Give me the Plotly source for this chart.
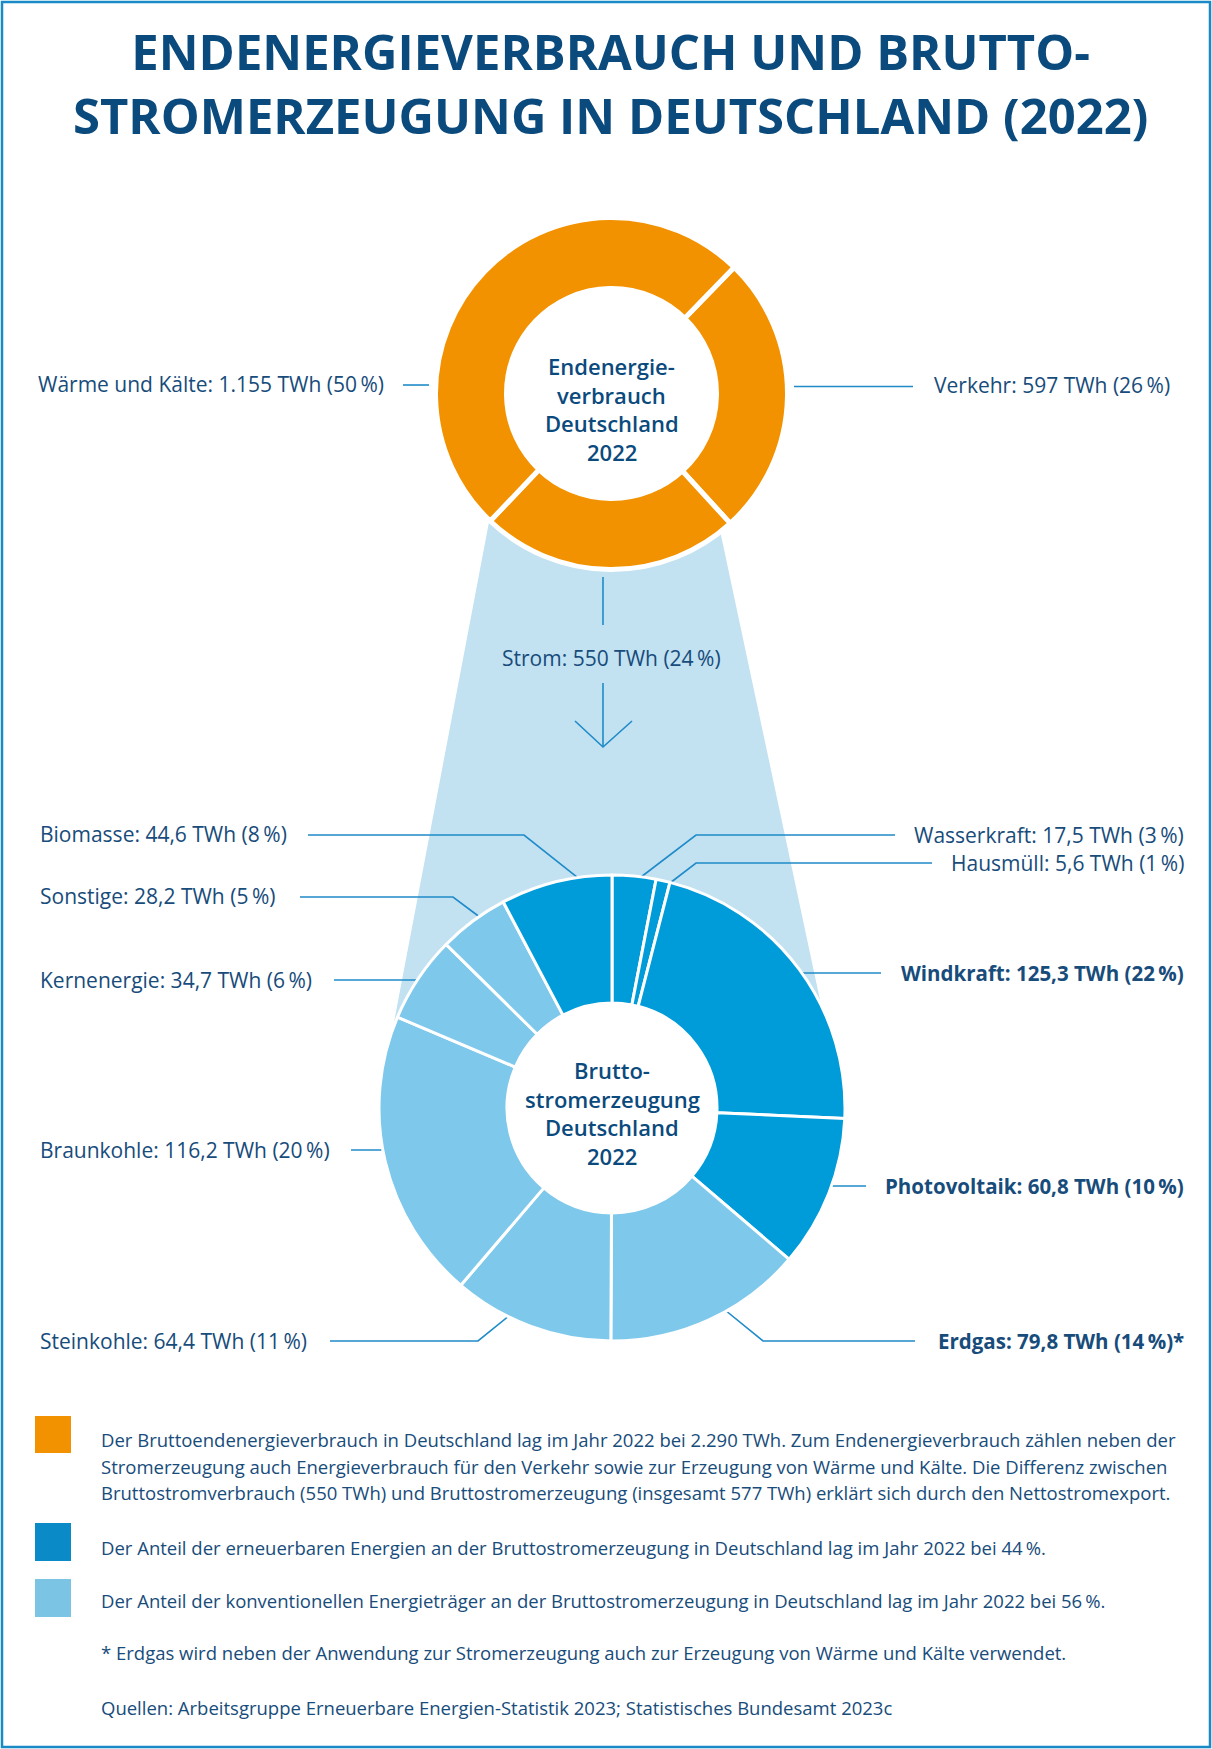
import math
import plotly.graph_objects as go

W, H = 1212, 1749

# ---------------- data ----------------
title_lines = ["ENDENERGIEVERBRAUCH UND BRUTTO-", "STROMERZEUGUNG IN DEUTSCHLAND (2022)"]

upper_labels = ["Verkehr", "Strom", "Wärme und Kälte"]
upper_values = [597, 550, 1155]
upper_pct = [26, 24, 50]
upper_center = ["Endenergie-", "verbrauch", "Deutschland", "2022"]

lower_labels = ["Wasserkraft", "Hausmüll", "Windkraft", "Photovoltaik", "Erdgas",
                "Steinkohle", "Braunkohle", "Kernenergie", "Sonstige", "Biomasse"]
lower_values = [17.5, 5.6, 125.3, 60.8, 79.8, 64.4, 116.2, 34.7, 28.2, 44.6]
lower_pct = [3, 1, 22, 10, 14, 11, 20, 6, 5, 8]
lower_kind = ["erneuerbar", "erneuerbar", "erneuerbar", "erneuerbar", "konventionell",
              "konventionell", "konventionell", "konventionell", "konventionell", "erneuerbar"]
lower_bold = ["Windkraft", "Photovoltaik", "Erdgas"]
lower_suffix = {"Erdgas": "*"}
lower_center = ["Brutto-", "stromerzeugung", "Deutschland", "2022"]

footer_blocks = [
    ("orange", ["Der Bruttoendenergieverbrauch in Deutschland lag im Jahr 2022 bei 2.290 TWh. Zum Endenergieverbrauch zählen neben der",
                "Stromerzeugung auch Energieverbrauch für den Verkehr sowie zur Erzeugung von Wärme und Kälte. Die Differenz zwischen",
                "Bruttostromverbrauch (550 TWh) und Bruttostromerzeugung (insgesamt 577 TWh) erklärt sich durch den Nettostromexport."]),
    ("erneuerbar", ["Der Anteil der erneuerbaren Energien an der Bruttostromerzeugung in Deutschland lag im Jahr 2022 bei 44\u2009%."]),
    ("konventionell", ["Der Anteil der konventionellen Energieträger an der Bruttostromerzeugung in Deutschland lag im Jahr 2022 bei 56\u2009%."]),
    (None, ["* Erdgas wird neben der Anwendung zur Stromerzeugung auch zur Erzeugung von Wärme und Kälte verwendet."]),
    (None, ["Quellen: Arbeitsgruppe Erneuerbare Energien-Statistik 2023; Statistisches Bundesamt 2023c"]),
]

# ---------------- styles ----------------
FONT = "Open Sans"
TITLE_COLOR = "#0b4a7d"
TEXT_COLOR = "#174c7b"
LINE_COLOR = "#1f8bc8"
COLORS = {"orange": "#f39200", "erneuerbar": "#009bd9", "konventionell": "#7ec8eb"}
LEGEND_COLORS = {"orange": "#f39200", "erneuerbar": "#0a8bc7", "konventionell": "#7cc4e4"}
FUNNEL_COLOR = "#c2e1f1"
BORDER_COLOR = "#1a8ac6"

# ---------------- layout geometry (pixels) ----------------
UP_C, UP_R, UP_HOLE_R = (611.5, 393.5), 176, 105
LO_C, LO_R, LO_HOLE_R = (612, 1108), 233, 105
UP_ROT = 44.2

upper_label_pos = {
    "Wärme und Kälte": dict(x=386, y=384, anchor="right", leader=[(403, 385), (429, 385)]),
    "Verkehr": dict(x=932, y=385, anchor="left", leader=[(794, 386.5), (913, 386.5)]),
}
strom_pos = dict(x=611, y=658, line1=[(603, 577), (603, 625)], line2=[(603, 683), (603, 747)],
                 head=[(575, 721), (603, 747), (632, 721)])

lower_label_pos = {
    "Wasserkraft": dict(x=1186, y=835, anchor="right", leader=[(895, 835), (696, 835), (641, 877)]),
    "Hausmüll": dict(x=1186, y=863, anchor="right", leader=[(932, 863), (696, 863), (670, 883)]),
    "Windkraft": dict(x=1186, y=973, anchor="right", leader=[(881, 973), (798, 973)]),
    "Photovoltaik": dict(x=1186, y=1186, anchor="right", leader=[(866, 1186), (826, 1186)]),
    "Erdgas": dict(x=1186, y=1341, anchor="right", leader=[(915, 1341), (763, 1341), (725, 1310)]),
    "Steinkohle": dict(x=38, y=1341, anchor="left", leader=[(330, 1341), (478, 1341), (510, 1315)]),
    "Braunkohle": dict(x=38, y=1150, anchor="left", leader=[(351, 1150), (386, 1150)]),
    "Kernenergie": dict(x=38, y=980, anchor="left", leader=[(334, 980), (422, 980)]),
    "Sonstige": dict(x=38, y=896, anchor="left", leader=[(300, 897), (453, 897), (481, 918)]),
    "Biomasse": dict(x=38, y=834, anchor="left", leader=[(308, 835), (524, 835), (578, 878)]),
}

title_pos = (610, 83)
title_size = 49
upper_center_y = [366, 395, 423, 452]
lower_center_y = [1070, 1099, 1127, 1156]
footer_text_x = 99
footer_size = 18.5
footer_y = [[1439, 1466, 1492], [1547], [1600], [1652], [1707]]
legend_sq = {"orange": (35, 1416, 71, 1453), "erneuerbar": (35, 1523, 71, 1561),
             "konventionell": (35, 1579, 71, 1617)}

# funnel edges: two lines (points measured on each edge)
funnel_left = [(478, 580), (395, 1017)]
funnel_right = [(722, 540), (820, 1000)]


def P(x):
    return x / W


def Q(y):
    return 1 - y / H


def de_num(v):
    if float(v).is_integer():
        return f"{int(v):,}".replace(",", ".")
    return f"{v:.1f}".replace(".", ",")


def label_text(name, value, pct, suffix=""):
    return f"{name}: {de_num(value)} TWh ({pct}\u2009%){suffix}"


def line_circle(p0, p1, c, r):
    dx, dy = p1[0] - p0[0], p1[1] - p0[1]
    fx, fy = p0[0] - c[0], p0[1] - c[1]
    a = dx * dx + dy * dy
    b = 2 * (fx * dx + fy * dy)
    cc = fx * fx + fy * fy - r * r
    disc = math.sqrt(b * b - 4 * a * cc)
    t1 = (-b - disc) / (2 * a)
    t2 = (-b + disc) / (2 * a)
    return t1, t2, (dx, dy)


def foot(p0, p1, c):
    dx, dy = p1[0] - p0[0], p1[1] - p0[1]
    L = math.hypot(dx, dy)
    ux, uy = dx / L, dy / L
    s = (c[0] - p0[0]) * ux + (c[1] - p0[1]) * uy
    return (p0[0] + s * ux, p0[1] + s * uy)


def ang(pt, c):
    return math.degrees(math.atan2(pt[0] - c[0], -(pt[1] - c[1])))


def on_circle(c, r, a):
    return (c[0] + r * math.sin(math.radians(a)), c[1] - r * math.cos(math.radians(a)))


# funnel polygon (kept outside the transparent donut holes)
_, tl2, d = line_circle(funnel_left[0], funnel_left[1], UP_C, UP_R)
ul = (funnel_left[0][0] + tl2 * d[0], funnel_left[0][1] + tl2 * d[1])
_, tr2, d2 = line_circle(funnel_right[0], funnel_right[1], UP_C, UP_R)
ur = (funnel_right[0][0] + tr2 * d2[0], funnel_right[0][1] + tr2 * d2[1])
lf = foot(funnel_left[0], funnel_left[1], LO_C)
rf = foot(funnel_right[0], funnel_right[1], LO_C)
a_r = ang(rf, LO_C)
a_l = ang(lf, LO_C)
arc_r = 214
pts = [ul, ur, rf]
n = 40
for i in range(n + 1):
    a = a_r + (a_l - a_r) * i / n
    pts.append(on_circle(LO_C, arc_r, a))
pts.append(lf)
funnel_path = "M " + " L ".join(f"{P(x):.5f},{Q(y):.5f}" for x, y in pts) + " Z"


def path_of(points):
    return "M " + " L ".join(f"{P(x):.5f},{Q(y):.5f}" for x, y in points)


fig = go.Figure()

# upper donut
fig.add_trace(go.Pie(
    labels=upper_labels, values=upper_values, sort=False, direction="clockwise",
    rotation=UP_ROT, hole=UP_HOLE_R / UP_R, textinfo="none", hoverinfo="label+value",
    marker=dict(colors=[COLORS["orange"]] * len(upper_values), line=dict(color="white", width=5)),
    domain=dict(x=[P(UP_C[0] - UP_R), P(UP_C[0] + UP_R)], y=[Q(UP_C[1] + UP_R), Q(UP_C[1] - UP_R)]),
    showlegend=False,
))

# lower donut
fig.add_trace(go.Pie(
    labels=lower_labels, values=lower_values, sort=False, direction="clockwise",
    rotation=0, hole=LO_HOLE_R / LO_R, textinfo="none", hoverinfo="label+value",
    marker=dict(colors=[COLORS[k] for k in lower_kind], line=dict(color="white", width=3)),
    domain=dict(x=[P(LO_C[0] - LO_R), P(LO_C[0] + LO_R)], y=[Q(LO_C[1] + LO_R), Q(LO_C[1] - LO_R)]),
    showlegend=False,
))

shapes = []
annotations = []

# border
shapes.append(dict(type="rect", xref="paper", yref="paper", x0=P(2), x1=P(1210), y0=Q(1747), y1=Q(2),
                   line=dict(color=BORDER_COLOR, width=2.5), fillcolor="rgba(0,0,0,0)", layer="below"))
# funnel
shapes.append(dict(type="path", xref="paper", yref="paper", path=funnel_path,
                   fillcolor=FUNNEL_COLOR, line=dict(width=0), layer="below"))


def add_leader(points):
    shapes.append(dict(type="path", xref="paper", yref="paper", path=path_of(points),
                       line=dict(color=LINE_COLOR, width=1.6), fillcolor="rgba(0,0,0,0)", layer="below"))


# upper labels
for name, val, pct in zip(upper_labels, upper_values, upper_pct):
    txt = label_text(name, val, pct)
    if name in upper_label_pos:
        lp = upper_label_pos[name]
        add_leader(lp["leader"])
        annotations.append(dict(x=P(lp["x"]), y=Q(lp["y"]), xref="paper", yref="paper", text=txt,
                                showarrow=False, xanchor=lp["anchor"], yanchor="middle",
                                font=dict(family=FONT, size=21, color=TEXT_COLOR)))
    else:
        add_leader(strom_pos["line1"])
        add_leader(strom_pos["line2"])
        add_leader(strom_pos["head"])
        annotations.append(dict(x=P(strom_pos["x"]), y=Q(strom_pos["y"]), xref="paper", yref="paper",
                                text=txt, showarrow=False, xanchor="center", yanchor="middle",
                                font=dict(family=FONT, size=21, color=TEXT_COLOR)))

# lower labels
for name, val, pct in zip(lower_labels, lower_values, lower_pct):
    lp = lower_label_pos[name]
    add_leader(lp["leader"])
    bold = name in lower_bold
    annotations.append(dict(x=P(lp["x"]), y=Q(lp["y"]), xref="paper", yref="paper",
                            text=label_text(name, val, pct, lower_suffix.get(name, "")),
                            showarrow=False, xanchor=lp["anchor"], yanchor="middle",
                            font=dict(family=FONT, size=20.5 if bold else 21, color=TEXT_COLOR,
                                      weight=700 if bold else 400)))

# centre texts
for txt, y in zip(upper_center, upper_center_y):
    annotations.append(dict(x=P(UP_C[0]), y=Q(y), xref="paper", yref="paper", text=txt, showarrow=False,
                            xanchor="center", yanchor="middle",
                            font=dict(family=FONT, size=22, color=TITLE_COLOR, weight=600)))
for txt, y in zip(lower_center, lower_center_y):
    annotations.append(dict(x=P(LO_C[0]), y=Q(y), xref="paper", yref="paper", text=txt, showarrow=False,
                            xanchor="center", yanchor="middle",
                            font=dict(family=FONT, size=22, color=TITLE_COLOR, weight=600)))

# title (one block, two lines)
annotations.append(dict(x=P(title_pos[0]), y=Q(title_pos[1]), xref="paper", yref="paper",
                        text="<br>".join(title_lines), showarrow=False,
                        xanchor="center", yanchor="middle", align="center",
                        font=dict(family=FONT, size=title_size, color=TITLE_COLOR, weight=700)))

# footer
for (key, lines), ys in zip(footer_blocks, footer_y):
    if key is not None:
        x0, y0, x1, y1 = legend_sq[key]
        shapes.append(dict(type="rect", xref="paper", yref="paper", x0=P(x0), x1=P(x1), y0=Q(y1), y1=Q(y0),
                           fillcolor=LEGEND_COLORS[key], line=dict(width=0), layer="below"))
    for txt, y in zip(lines, ys):
        annotations.append(dict(x=P(footer_text_x), y=Q(y), xref="paper", yref="paper", text=txt,
                                showarrow=False, xanchor="left", yanchor="middle",
                                font=dict(family=FONT, size=footer_size, color=TEXT_COLOR)))

fig.update_layout(
    width=W, height=H, margin=dict(l=0, r=0, t=0, b=0),
    paper_bgcolor="white", plot_bgcolor="white",
    shapes=shapes, annotations=annotations, showlegend=False,
)

fig.write_html("out.html", config={"displayModeBar": False},
               post_script="document.body.style.margin='0';document.body.style.overflow='hidden';")
